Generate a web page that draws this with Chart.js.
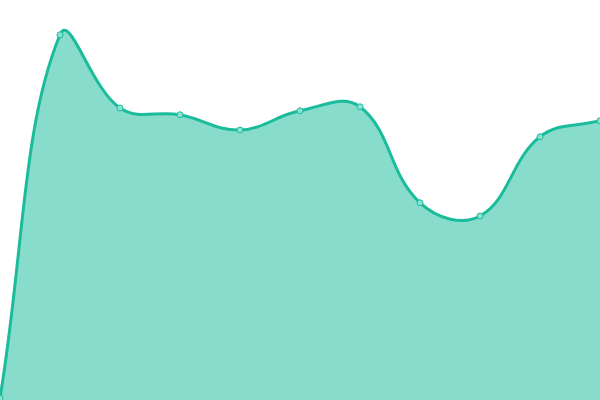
<!DOCTYPE html>
<html>
<head>
<meta charset="utf-8">
<script src="https://cdn.jsdelivr.net/npm/chart.js@4"></script>
<style>
  html, body { margin: 0; padding: 0; background: #fff; }
  #wrap { width: 600px; height: 400px; }
</style>
</head>
<body>
<div id="wrap"><canvas id="chart"></canvas></div>
<script>
// labels dan nilai seri
const labels = ["1", "2", "3", "4", "5", "6", "7", "8", "9", "10", "11"];
const values = [0.5, 91.3, 73, 71.3, 67.5, 72.3, 73.3, 49.3, 46, 65.8, 69.8];

const teal = "rgb(26, 188, 156)";

new Chart(document.getElementById("chart"), {
  type: "line",
  data: {
    labels: labels,
    datasets: [
      {
        data: values,
        fill: true,
        tension: 0.4,
        borderColor: teal,
        borderWidth: 3,
        backgroundColor: "rgba(26, 188, 156, 0.52)",
        pointRadius: 3,
        pointBorderWidth: 1,
        pointBorderColor: teal,
        pointBackgroundColor: "rgba(140, 225, 208, 1)",
      },
    ],
  },
  options: {
    responsive: true,
    maintainAspectRatio: false,
    animation: false,
    layout: { padding: 0, autoPadding: false },
    plugins: {
      legend: { display: false },
      tooltip: { enabled: false },
    },
    scales: {
      x: { display: false, offset: false },
      y: { display: false, min: 0, max: 100 },
    },
  },
});
</script>
</body>
</html>
